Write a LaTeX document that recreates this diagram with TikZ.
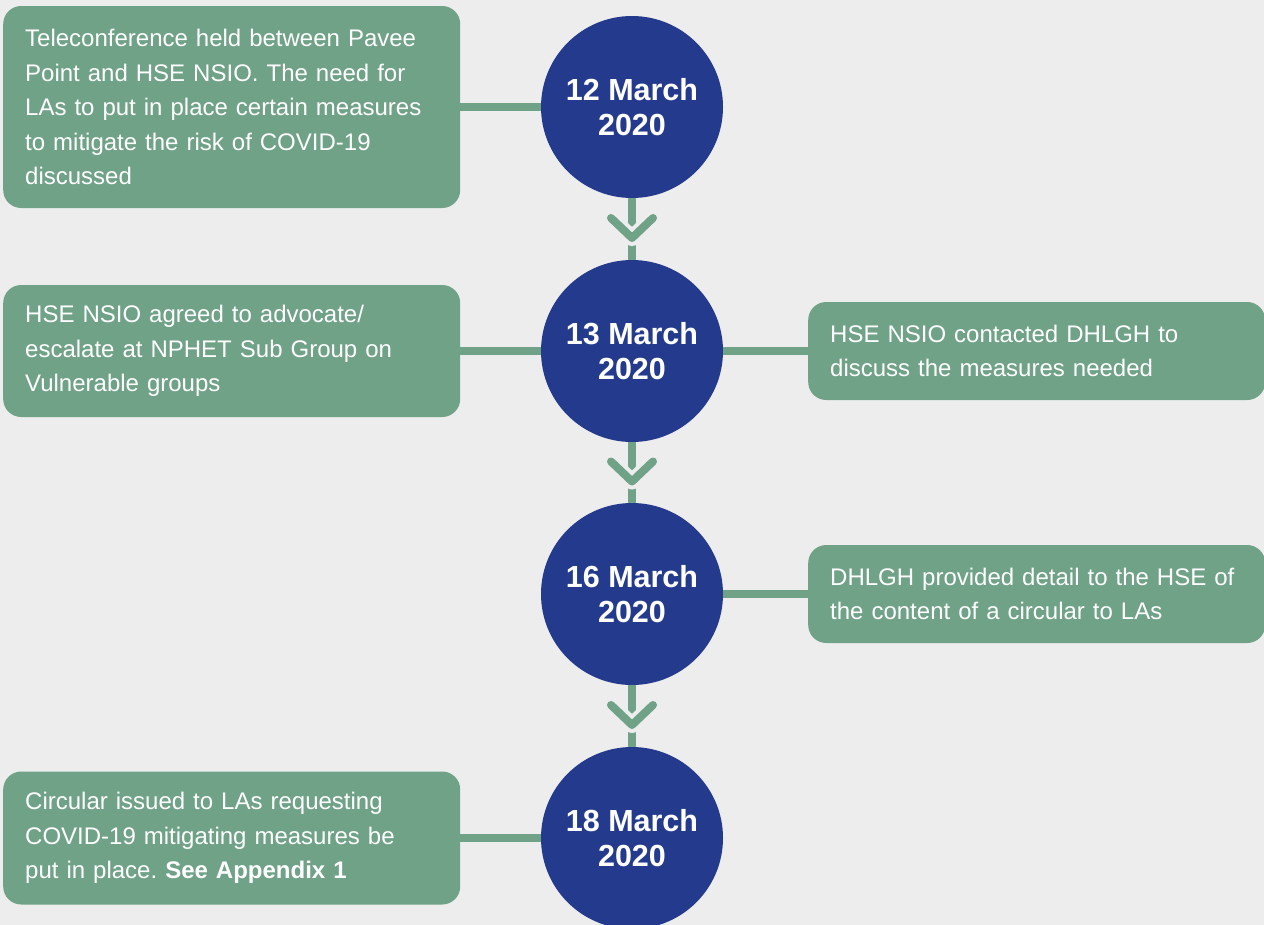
\documentclass[tikz,border=0pt]{standalone}
\usepackage{fontspec}
\setmainfont{Liberation Sans}
\frenchspacing
\usetikzlibrary{calc}
\definecolor{paper}{HTML}{EDEDED}
\definecolor{sage}{HTML}{6FA287}
\definecolor{navy}{HTML}{243A8C}
\begin{document}
\begin{tikzpicture}[x=1pt, y=-1pt,
  day/.style={circle, fill=navy, minimum size=182pt, inner sep=0pt, text=white, align=center, font=\fontsize{30.5}{35}\selectfont\bfseries},
  note/.style={rectangle, rounded corners=18pt, fill=sage, text=white, text width=413pt, inner xsep=22pt, inner ysep=0pt, align=left, anchor=west, font=\fontsize{24}{34.5}\selectfont},
  link/.style={draw=sage, line width=8pt},
  chev/.style={draw=sage, line width=8pt, line cap=round, line join=round},
  halo/.style={draw=paper, line width=16pt, line cap=round, line join=round}]
  \useasboundingbox (0,0) rectangle (1264,924);
  \fill[paper] (-4,-4) rectangle (1268,928);
  % dates
  \node[day] (d1) at (632,107) {12 March\\2020};
  \node[day] (d2) at (632,351) {13 March\\2020};
  \node[day] (d3) at (632,594) {16 March\\2020};
  \node[day] (d4) at (632,838) {18 March\\2020};
  % notes
  \node[note, minimum height=202pt] (b1) at (3,107) {Teleconference held between Pavee\\Point and HSE NSIO. The need for\\LAs to put in place certain measures\\to mitigate the risk of COVID-19\\discussed};
  \node[note, minimum height=132pt] (b2) at (3,351) {HSE NSIO agreed to advocate/\\escalate at NPHET Sub Group on\\Vulnerable groups};
  \node[note, minimum height=98pt] (b3) at (808,351) {HSE NSIO contacted DHLGH to\\discuss the measures needed};
  \node[note, minimum height=98pt] (b4) at (808,594) {DHLGH provided detail to the HSE of\\the content of a circular to LAs};
  \node[note, minimum height=133pt] (b5) at (3,838) {Circular issued to LAs requesting\\COVID-19 mitigating measures be\\put in place. \textbf{See Appendix 1}};
  % connectors
  \draw[link] (b1.east) -- (d1.west);
  \draw[link] (b2.east) -- (d2.west);
  \draw[link] (d2.east) -- (b3.west);
  \draw[link] (d3.east) -- (b4.west);
  \draw[link] (b5.east) -- (d4.west);
  \draw[link] (d1.south) -- (d2.north);
  \draw[link] (d2.south) -- (d3.north);
  \draw[link] (d3.south) -- (d4.north);
  % chevrons
  \foreach \a/\b in {d1/d2, d2/d3, d3/d4} {
    \coordinate (m) at ($(\a.south)!0.5!(\b.north)$);
    \draw[halo] ([shift={(-21,-11)}]m) -- ([shift={(0,9)}]m) -- ([shift={(21,-11)}]m);
    \draw[chev] ([shift={(-21,-11)}]m) -- ([shift={(0,9)}]m) -- ([shift={(21,-11)}]m);
  }
\end{tikzpicture}
\end{document}
